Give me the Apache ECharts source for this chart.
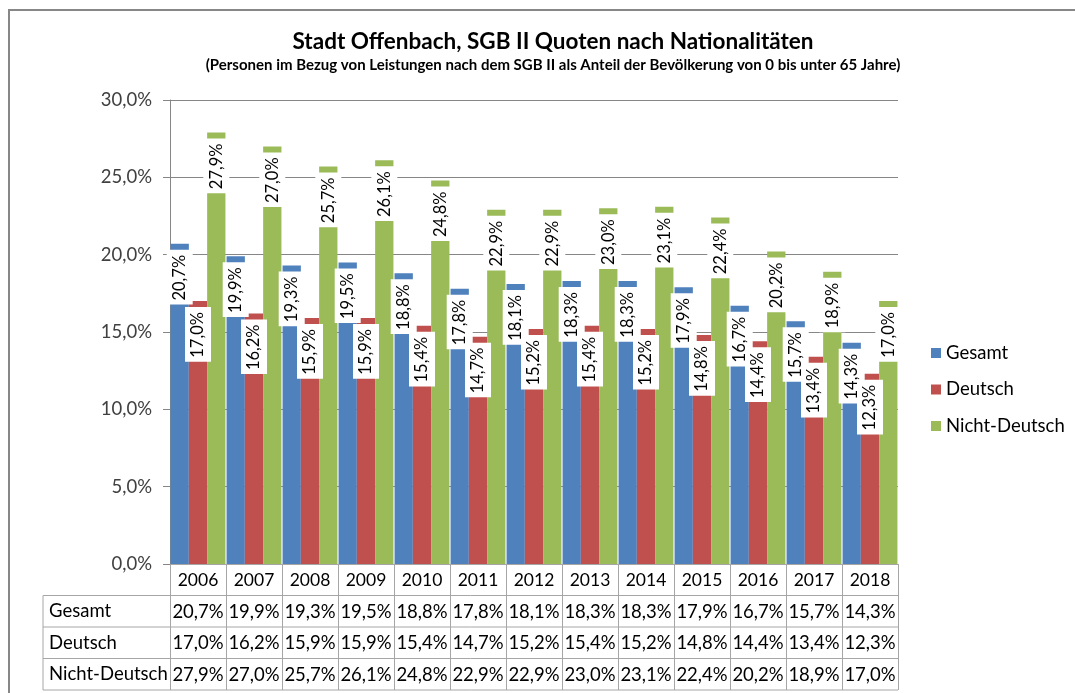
<!DOCTYPE html>
<html>
<head>
<meta charset="utf-8">
<script src="https://cdn.jsdelivr.net/npm/echarts@6/dist/echarts.min.js"></script>
<style>
html, body { margin: 0; padding: 0; background: #fff; }
#main { width: 1075px; height: 693px; }
</style>
</head>
<body>
<div id="main"></div>
<script>
var years = ['2006', '2007', '2008', '2009', '2010', '2011', '2012', '2013', '2014', '2015', '2016', '2017', '2018'];
var gesamt = [20.7, 19.9, 19.3, 19.5, 18.8, 17.8, 18.1, 18.3, 18.3, 17.9, 16.7, 15.7, 14.3];
var deutsch = [17.0, 16.2, 15.9, 15.9, 15.4, 14.7, 15.2, 15.4, 15.2, 14.8, 14.4, 13.4, 12.3];
var nichtDeutsch = [27.9, 27.0, 25.7, 26.1, 24.8, 22.9, 22.9, 23.0, 23.1, 22.4, 20.2, 18.9, 17.0];
var seriesNames = ['Gesamt', 'Deutsch', 'Nicht-Deutsch'];
var seriesData = [gesamt, deutsch, nichtDeutsch];
var colors = ['#4F81BD', '#C0504D', '#9BBB59'];

var font = 'Lato';
var lineColor = '#a6a6a6';

// plot box
var plotLeft = 170, plotRight = 898, plotTop = 100, plotBottom = 564;
var rowH = 31.5;
var tableLeft = 43;

function fmt(v) {
    return v.toFixed(1).replace('.', ',') + '%';
}

var chart = echarts.init(document.getElementById('main'));

var labelOpt = {
    show: true,
    position: 'insideTop',
    distance: 6,
    rotate: 90,
    align: 'right',
    verticalAlign: 'middle',
    backgroundColor: '#fff',
    padding: [4, 5, 4, 4],
    fontSize: 16.5,
    lineHeight: 18,
    fontFamily: font,
    color: '#000',
    formatter: function (p) { return fmt(p.value); }
};

// x axes: years + one axis per table row
var xAxes = [{
    type: 'category',
    data: years,
    position: 'bottom',
    axisLine: { lineStyle: { color: lineColor } },
    axisTick: { show: true, interval: 0, length: rowH * 4, lineStyle: { color: lineColor } },
    axisLabel: { margin: 7, fontSize: 17.5, fontFamily: font, color: '#000' }
}];
seriesData.forEach(function (arr, i) {
    xAxes.push({
        type: 'category',
        data: years,
        position: 'bottom',
        offset: rowH * (i + 1),
        axisLine: { show: false },
        axisTick: { show: false },
        axisLabel: {
            margin: 7, fontSize: 18.5, fontFamily: font, color: '#000', interval: 0,
            formatter: function (val, idx) { return fmt(arr[idx]); }
        }
    });
});

var graphics = [{
    type: 'rect',
    shape: { x: 9, y: 10, width: 1090, height: 700 },
    style: { fill: 'none', stroke: '#878787', lineWidth: 2 },
    silent: true
}];
for (var r = 1; r <= 4; r++) {
    graphics.push({
        type: 'line',
        shape: { x1: tableLeft, y1: plotBottom + rowH * r, x2: plotRight, y2: plotBottom + rowH * r },
        style: { stroke: lineColor, lineWidth: 1 }
    });
}
graphics.push({
    type: 'line',
    shape: { x1: tableLeft, y1: plotBottom + rowH, x2: tableLeft, y2: plotBottom + rowH * 4 },
    style: { stroke: lineColor, lineWidth: 1 }
});
seriesNames.forEach(function (name, i) {
    graphics.push({
        type: 'text',
        x: tableLeft + 6,
        y: plotBottom + rowH * (i + 1.5),
        style: { text: name, font: '18.5px ' + font, fill: '#000', verticalAlign: 'middle' }
    });
});

chart.setOption({
    animation: false,
    color: colors,
    title: {
        text: 'Stadt Offenbach, SGB II Quoten nach Nationalitäten',
        subtext: '(Personen im Bezug von Leistungen nach dem SGB II als Anteil der Bevölkerung von 0 bis unter 65 Jahre)',
        left: 548,
        top: 25,
        textAlign: 'center',
        itemGap: 5,
        textStyle: { fontFamily: font, fontSize: 22.5, fontWeight: 'bold', color: '#000' },
        subtextStyle: { fontFamily: font, fontSize: 15, fontWeight: 'bold', color: '#000' }
    },
    legend: {
        orient: 'vertical',
        left: 931,
        top: 343,
        padding: 0,
        icon: 'rect',
        itemWidth: 10,
        itemHeight: 10,
        itemGap: 16.5,
        textStyle: { fontFamily: font, fontSize: 18.5, lineHeight: 20, color: '#000' },
        data: seriesNames
    },
    grid: {
        left: plotLeft,
        right: 1075 - plotRight,
        top: plotTop,
        bottom: 693 - plotBottom,
        containLabel: false
    },
    xAxis: xAxes,
    yAxis: {
        type: 'value',
        min: 0,
        max: 30,
        interval: 5,
        axisLine: { show: true, lineStyle: { color: '#868686' } },
        axisTick: { show: true, length: 7, lineStyle: { color: '#868686' } },
        axisLabel: {
            margin: 18, fontSize: 18.5, fontFamily: font, color: '#404040',
            formatter: function (v) { return fmt(v); }
        },
        splitLine: { lineStyle: { color: '#868686' } }
    },
    series: seriesNames.map(function (name, i) {
        return {
            name: name,
            type: 'bar',
            xAxisIndex: 0,
            data: seriesData[i],
            barGap: '0%',
            barCategoryGap: '2%',
            label: labelOpt
        };
    }),
    graphic: graphics
});
</script>
</body>
</html>
